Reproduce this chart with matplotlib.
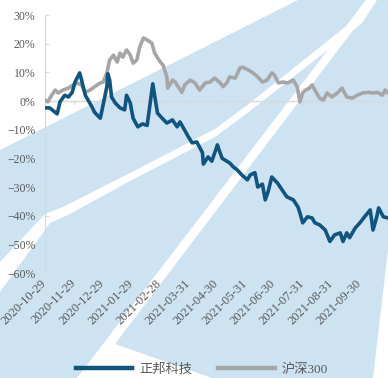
import matplotlib
matplotlib.use("Agg")
import matplotlib.pyplot as plt
from matplotlib.patches import Polygon
from matplotlib.lines import Line2D
import pandas as pd

plt.rcParams['font.family'] = ['Liberation Serif', 'Noto Sans CJK SC']

# 正邦科技 (relative return, %)
zb_dates = ['2020-10-29', '2020-11-03', '2020-11-11', '2020-11-14', '2020-11-19', '2020-11-23',
            '2020-11-27', '2020-11-30', '2020-12-05', '2020-12-07', '2020-12-11', '2020-12-14',
            '2020-12-18', '2020-12-21', '2020-12-27', '2020-12-30', '2021-01-03', '2021-01-04',
            '2021-01-06', '2021-01-08', '2021-01-12', '2021-01-17', '2021-01-22', '2021-01-24',
            '2021-01-28', '2021-01-31', '2021-02-05', '2021-02-10', '2021-02-15', '2021-02-21',
            '2021-02-26', '2021-03-03', '2021-03-08', '2021-03-14', '2021-03-19', '2021-03-22',
            '2021-03-25', '2021-03-31', '2021-04-04', '2021-04-09', '2021-04-15', '2021-04-16',
            '2021-04-21', '2021-04-25', '2021-05-01', '2021-05-02', '2021-05-06', '2021-05-11',
            '2021-05-14', '2021-05-18', '2021-05-22', '2021-05-27', '2021-06-02', '2021-06-05',
            '2021-06-10', '2021-06-13', '2021-06-18', '2021-06-21', '2021-06-24', '2021-06-28',
            '2021-07-04', '2021-07-09', '2021-07-14', '2021-07-21', '2021-07-26', '2021-07-28',
            '2021-07-31', '2021-08-05', '2021-08-10', '2021-08-13', '2021-08-18', '2021-08-24',
            '2021-08-29', '2021-09-03', '2021-09-09', '2021-09-12', '2021-09-16', '2021-09-19',
            '2021-09-25', '2021-09-30', '2021-10-05', '2021-10-11', '2021-10-14', '2021-10-18',
            '2021-10-20', '2021-10-25', '2021-10-30']
zb_values = [-2.4, -2.4, -4.5, -0.3, 2.0, 1.4,
             3.0, 6.6, 9.8, 7.3, 2.0, 0.3,
             -2.0, -4.0, -6.0, -1.4, 5.0, 9.5,
             7.3, 1.4, -0.7, -2.4, -3.1, 2.0,
             -0.7, -6.0, -9.0, -8.0, -8.5, 6.0,
             -4.2, -6.0, -7.7, -6.6, -9.0, -7.3,
             -9.0, -12.5, -14.6, -14.3, -18.0, -22.0,
             -19.5, -21.0, -15.3, -16.4, -20.0, -21.0,
             -21.6, -23.0, -24.0, -25.8, -27.5, -25.8,
             -25.0, -30.0, -29.0, -34.5, -31.7, -26.5,
             -28.6, -31.0, -33.4, -34.5, -37.0, -39.0,
             -42.5, -40.4, -40.8, -42.5, -43.2, -45.0,
             -49.0, -46.7, -46.0, -49.0, -46.0, -47.7,
             -44.3, -42.5, -40.4, -38.0, -45.0, -40.4,
             -37.3, -40.4, -40.8]

# 沪深300 (relative return, %)
hs_dates = ['2020-10-29', '2020-11-01', '2020-11-05', '2020-11-09', '2020-11-12', '2020-11-17',
            '2020-11-23', '2020-11-28', '2020-12-02', '2020-12-07', '2020-12-11', '2020-12-16',
            '2020-12-21', '2020-12-27', '2020-12-30', '2021-01-03', '2021-01-06', '2021-01-10',
            '2021-01-14', '2021-01-17', '2021-01-20', '2021-01-24', '2021-01-28', '2021-01-31',
            '2021-02-04', '2021-02-07', '2021-02-11', '2021-02-15', '2021-02-20', '2021-02-23',
            '2021-03-01', '2021-03-04', '2021-03-08', '2021-03-09', '2021-03-14', '2021-03-17',
            '2021-03-20', '2021-03-24', '2021-03-27', '2021-04-02', '2021-04-07', '2021-04-12',
            '2021-04-18', '2021-04-23', '2021-04-28', '2021-05-04', '2021-05-07', '2021-05-11',
            '2021-05-14', '2021-05-20', '2021-05-25', '2021-05-28', '2021-06-03', '2021-06-08',
            '2021-06-13', '2021-06-18', '2021-06-23', '2021-06-28', '2021-07-01', '2021-07-05',
            '2021-07-10', '2021-07-15', '2021-07-21', '2021-07-25', '2021-07-28', '2021-07-31',
            '2021-08-03', '2021-08-07', '2021-08-10', '2021-08-13', '2021-08-18', '2021-08-22',
            '2021-08-26', '2021-08-31', '2021-09-06', '2021-09-11', '2021-09-16', '2021-09-22',
            '2021-09-27', '2021-10-03', '2021-10-09', '2021-10-14', '2021-10-19', '2021-10-24',
            '2021-10-27', '2021-10-30']
hs_values = [0.3, -0.3, 2.0, 3.8, 2.8, 3.8,
             4.5, 5.6, 6.3, 5.6, 3.0, 3.8,
             5.0, 6.3, 6.6, 9.8, 14.3, 16.0,
             13.6, 16.7, 15.3, 17.8, 16.0, 13.2,
             14.3, 18.8, 22.0, 21.3, 20.2, 16.7,
             13.6, 12.5, 8.4, 4.5, 7.3, 6.6,
             5.0, 3.0, 5.6, 7.3, 6.3, 3.8,
             6.3, 6.6, 8.0, 6.3, 5.0, 6.3,
             8.4, 8.0, 11.5, 11.8, 10.8, 9.8,
             8.4, 6.6, 7.3, 9.8, 9.0, 6.3,
             6.6, 6.3, 7.3, 5.0, -0.3, 2.8,
             3.8, 4.5, 5.6, 3.8, 1.0, 0.3,
             2.8, 1.4, 2.8, 4.5, 1.4, 1.0,
             2.0, 2.8, 3.0, 2.8, 3.0, 2.0,
             3.8, 2.8]

tick_dates = ['2020-10-29', '2020-11-29', '2020-12-29', '2021-01-29', '2021-02-28', '2021-03-31',
              '2021-04-30', '2021-05-31', '2021-06-30', '2021-07-31', '2021-08-31', '2021-09-30']
y_ticks = [-60, -50, -40, -30, -20, -10, 0, 10, 20, 30]

W, H = 388, 378
fig = plt.figure(figsize=(W / 100, H / 100), dpi=100)
fig.patch.set_facecolor('#cde3f2')

# watermark-like background stripes (pixel coords, y down)
def fp(pts):
    return [(x / W, 1 - y / H) for x, y in pts]

shapes = [
    [(0, 0), (298, 0), (0, 150)],
    [(0, 262), (45, 214), (63, 207), (130, 173), (215, 129), (250, 103), (360, 15), (369, 0),
     (377, 0), (362, 23), (250, 111), (215, 137), (130, 181), (68, 215), (50, 223), (0, 292)],
    [(77, 378), (366, 0), (376, 0), (115, 344), (212, 378)],
    [(388, 250), (388, 378), (373, 378)],
]
for s in shapes:
    fig.add_artist(Polygon(fp(s), closed=True, transform=fig.transFigure,
                           facecolor='white', edgecolor='none', zorder=-5))

ax = fig.add_axes([45 / W, 1 - 273 / H, 343 / W, 258 / H])
ax.patch.set_alpha(0)

zb_x = pd.to_datetime(zb_dates)
hs_x = pd.to_datetime(hs_dates)
ticks = pd.to_datetime(tick_dates)

ax.plot(hs_x, hs_values, color='#a6a6a6', lw=2.6, label='沪深300', zorder=3)
ax.plot(zb_x, zb_values, color='#0f5580', lw=2.6, label='正邦科技', zorder=4)
ax.axhline(0, color='#d9d9d9', lw=1, zorder=1)

ax.set_xlim(pd.Timestamp('2020-10-29'), pd.Timestamp('2021-10-30'))
ax.set_ylim(-60, 30)
ax.set_yticks(y_ticks)
ax.set_yticklabels([f'{v}%'.replace('-', '\u2212') for v in y_ticks])

ax.set_xticks(ticks)
ax.set_xticklabels(tick_dates, rotation=45, ha='right', va='center', rotation_mode='anchor')

for side in ['top', 'right', 'bottom']:
    ax.spines[side].set_visible(False)
ax.spines['left'].set_color('#d9d9d9')
ax.tick_params(axis='y', direction='in', length=3, color='#d9d9d9', labelsize=8.5,
               labelcolor='#595959', pad=7)
ax.tick_params(axis='x', length=0, labelsize=9, labelcolor='#595959', pad=6)

# small month ticks on the zero line
sec = ax.secondary_xaxis(2 / 3)
sec.set_xticks(ticks)
sec.set_xticklabels([])
sec.tick_params(direction='in', length=3, color='#d9d9d9')
for sp in sec.spines.values():
    sp.set_visible(False)

h1 = Line2D([], [], color='#0f5580', lw=3.2)
h2 = Line2D([], [], color='#a6a6a6', lw=3.2)
fig.legend([h1, h2], ['正邦科技', '沪深300'], loc='center', bbox_to_anchor=(0.52, 0.022),
           ncol=2, frameon=False, fontsize=9.5, handlelength=4.3, columnspacing=2,
           handletextpad=0.5, labelcolor='#595959')

fig.savefig('out.png', dpi=100)
